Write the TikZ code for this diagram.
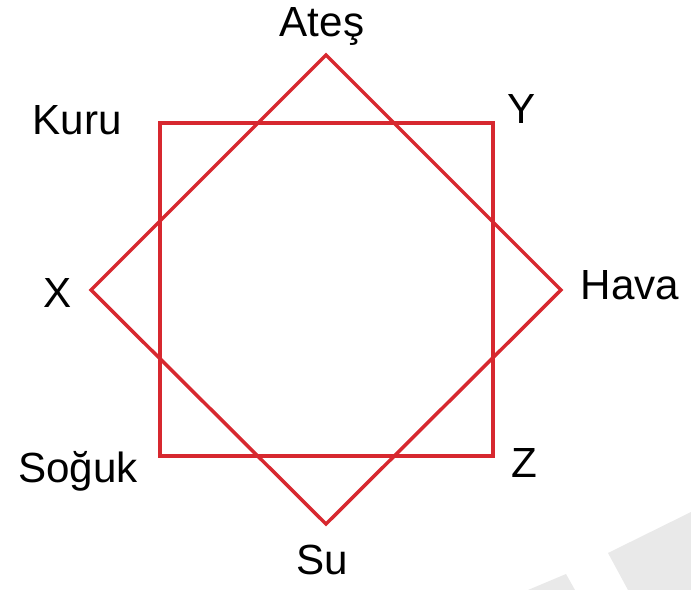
\documentclass[tikz,border=0pt]{standalone}
\usepackage{fontspec}
\setmainfont{Liberation Sans}
\definecolor{rosso}{HTML}{D7282F}
\definecolor{grigio}{HTML}{E9E9E9}
\begin{document}
\begin{tikzpicture}[x=0.02cm, y=-0.02cm,
        lato/.style={rosso, line width=2pt, line join=miter},
        etichetta/.style={anchor=base, font=\fontsize{24}{28}\selectfont}]
        \useasboundingbox (0,0) rectangle (691,590);
        
        % Sfondo (forme grigie)
        \fill[grigio] (608,553) -- (691,512) -- (691,590) -- (628,590) -- cycle;
        \fill[grigio] (528,590) -- (566,574) -- (575,590) -- cycle;
        
        % Vertici del quadrato
        \coordinate (kuru)  at (160,123);
        \coordinate (y)     at (493,123);
        \coordinate (z)     at (493,456);
        \coordinate (soguk) at (160,456);
        
        % Vertici del rombo
        \coordinate (ates) at (326,55);
        \coordinate (hava) at (561,290);
        \coordinate (su)   at (326,524);
        \coordinate (x)    at (91,290);
        
        % Quadrato
        \draw[lato] (kuru) -- (y) -- (z) -- (soguk) -- cycle;
        
        % Rombo
        \draw[lato] (ates) -- (hava) -- (su) -- (x) -- cycle;
        
        % Etichette
        \node[etichetta] (lAtes)  at (322,37)  {Ateş};
        \node[etichetta] (lY)     at (522,124) {Y};
        \node[etichetta] (lKuru)  at (77,135)  {Kuru};
        \node[etichetta] (lX)     at (58,308)  {X};
        \node[etichetta] (lHava)  at (630,300) {Hava};
        \node[etichetta] (lSoguk) at (78,483)  {Soğuk};
        \node[etichetta] (lZ)     at (524,478) {Z};
        \node[etichetta] (lSu)    at (322,575) {Su};
    \end{tikzpicture}
\end{document}
